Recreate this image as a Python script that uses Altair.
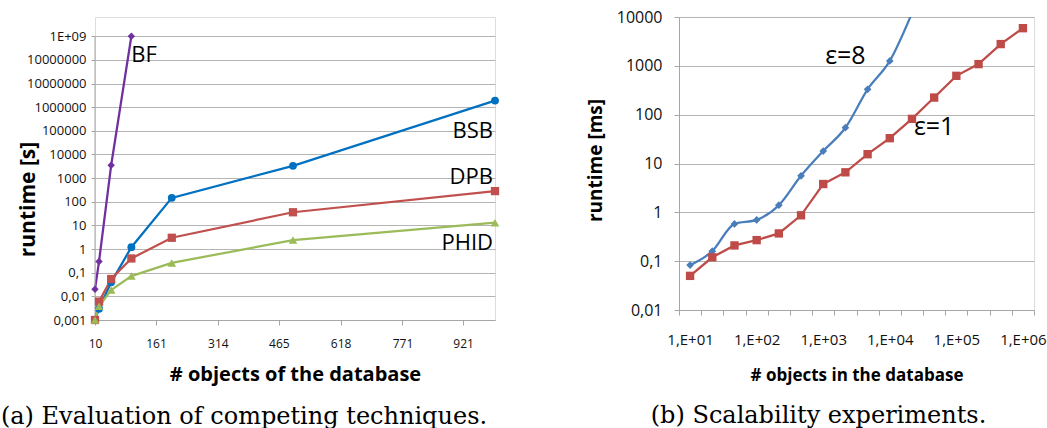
import json
import altair as alt
import pandas as pd

# ---------------- (a) Evaluation of competing techniques ----------------
left_series = ["BF", "BSB", "DPB", "PHID"]
left_colors = ["#7030A0", "#0070C0", "#C0504D", "#9BBB59"]
left_shapes = ["diamond", "circle", "square", "triangle-up"]
left_sizes = [55, 75, 60, 60]

bf_objects = [10, 20, 50, 100]
bf_runtime = [0.02, 0.3, 3500, 1e9]
objects = [10, 20, 50, 100, 200, 500, 1000]
bsb_runtime = [0.001, 0.003, 0.039, 1.2, 146, 3300, 1.9e6]
dpb_runtime = [0.001, 0.006, 0.054, 0.4, 3.0, 36, 282]
phid_runtime = [0.001, 0.0038, 0.0186, 0.072, 0.26, 2.4, 13]

left_xticks = [10, 161, 314, 465, 618, 771, 921]
left_yticks = [1e-3, 1e-2, 1e-1, 1, 10, 100, 1e3, 1e4, 1e5, 1e6, 1e7, 1e8, 1e9]
left_ytick_labels = ["0,001", "0,01", "0,1", "1", "10", "100", "1000", "10000",
                     "100000", "1000000", "10000000", "10000000", "1E+09"]

left_label_text = ["BF", "BSB", "DPB", "PHID"]
left_label_x = [100, 1000, 1000, 1000]
left_label_y = [1.6e8, 1.0e5, 1150, 1.8]

# ---------------- (b) Scalability experiments ----------------
right_series = ["ε=8", "ε=1"]
right_colors = ["#4A7EBB", "#BE4B48"]
right_shapes = ["diamond", "square"]
right_categories = ["1,E+01", "2,E+01", "5,E+01", "1,E+02", "2,E+02", "5,E+02",
                    "1,E+03", "2,E+03", "5,E+03", "1,E+04", "2,E+04", "5,E+04",
                    "1,E+05", "2,E+05", "5,E+05", "1,E+06"]
eps8_runtime = [0.083, 0.16, 0.58, 0.70, 1.4, 5.6, 18, 54, 330, 1260, 12000]
eps1_runtime = [0.05, 0.12, 0.21, 0.27, 0.37, 0.87, 3.8, 6.6, 15.5, 33, 82,
                224, 624, 1085, 2790, 5900]
right_yticks = [0.01, 0.1, 1, 10, 100, 1000, 10000]
right_ytick_labels = ["0,01", "0,1", "1", "10", "100", "1000", "10000"]

right_label_text = ["ε=8", "ε=1"]
right_label_cat = ["2,E+03", "5,E+04"]
right_label_y = [1600, 56]

GRAY = "#A6A6A6"
GRID = "#B4B4B4"
FONT = "Open Sans"
SERIF = "DejaVu Serif"

# ---------------- tables ----------------
rows = []
for s, xs, ys in [("BF", bf_objects, bf_runtime), ("BSB", objects, bsb_runtime),
                  ("DPB", objects, dpb_runtime), ("PHID", objects, phid_runtime)]:
    for x, y in zip(xs, ys):
        rows.append({"technique": s, "objects": x, "runtime": y})
df_left = pd.DataFrame(rows)
df_left_lab = pd.DataFrame({"text": left_label_text, "objects": left_label_x,
                            "runtime": left_label_y})
# vertical axis line spans the labelled decades only
df_left_axis = pd.DataFrame({"objects": [left_xticks[0]], "runtime": [left_yticks[0]],
                             "top": [left_yticks[-1]]})

rows = []
for s, ys in [("ε=8", eps8_runtime), ("ε=1", eps1_runtime)]:
    for c, y in zip(right_categories, ys):
        rows.append({"setting": s, "cat": c, "runtime": y})
df_right = pd.DataFrame(rows)
df_right_lab = pd.DataFrame({"text": right_label_text, "cat": right_label_cat,
                             "runtime": right_label_y})

# ---------------- left chart ----------------
left_label_expr = json.dumps(left_ytick_labels) + "[round(log(datum.value)/LN10)+3]"
xl = alt.X("objects:Q",
           scale=alt.Scale(domain=[10, 1000], nice=False, zero=False),
           axis=alt.Axis(values=left_xticks, format="d", grid=False, tickSize=5,
                         labelPadding=13, labelFontSize=12, labelFlush=False,
                         labelOverlap=False, labelColor="#111111",
                         domainColor=GRAY, tickColor=GRAY,
                         title="# objects of the database", titleFontSize=20,
                         titleFontWeight="bold", titlePadding=15, titleColor="#000000"))
yl = alt.Y("runtime:Q",
           scale=alt.Scale(type="log", domain=[1e-3, 6.5e9], nice=False),
           axis=alt.Axis(values=left_yticks, labelExpr=left_label_expr, grid=True,
                         gridColor=GRID, tickSize=4, labelPadding=5, labelFontSize=13,
                         labelColor="#111111", domain=False, tickColor=GRAY,
                         labelOverlap=False, labelFlush=False,
                         title="runtime [s]", titleFontSize=21, titleFontWeight="bold",
                         titleX=-67, titleY=182, titleBaseline="middle",
                         titleColor="#000000"))
lcolor = alt.Color("technique:N", scale=alt.Scale(domain=left_series, range=left_colors),
                   legend=None)
left_lines = alt.Chart(df_left).mark_line(strokeWidth=2.25).encode(x=xl, y=yl, color=lcolor)
left_axis_line = alt.Chart(df_left_axis).mark_rule(color=GRAY, strokeWidth=1).encode(
    x="objects:Q", y="runtime:Q", y2="top:Q")
left_points = alt.Chart(df_left).mark_point(filled=True, opacity=1).encode(
    x="objects:Q", y="runtime:Q", color=lcolor,
    shape=alt.Shape("technique:N", scale=alt.Scale(domain=left_series, range=left_shapes),
                    legend=None),
    size=alt.Size("technique:N", scale=alt.Scale(domain=left_series, range=left_sizes),
                  legend=None))
left_lab_l = alt.Chart(df_left_lab[df_left_lab.text == "BF"]).mark_text(
    align="left", baseline="middle", fontSize=22, font=FONT, color="#000000").encode(
    x="objects:Q", y="runtime:Q", text="text:N")
left_lab_r = alt.Chart(df_left_lab[df_left_lab.text != "BF"]).mark_text(
    align="right", baseline="middle", fontSize=22, font=FONT, color="#000000", dx=-2).encode(
    x="objects:Q", y="runtime:Q", text="text:N")

left = alt.layer(left_lines, left_axis_line, left_points, left_lab_l, left_lab_r).properties(
    width=400, height=303,
    title=alt.TitleParams("(a) Evaluation of competing techniques.", orient="bottom",
                          font=SERIF, fontSize=24, fontWeight="normal", color="#000000",
                          anchor="middle", offset=21, dx=-51))

# ---------------- right chart ----------------
right_label_expr = json.dumps(right_ytick_labels) + "[round(log(datum.value)/LN10)+2]"
xr = alt.X("cat:N", sort=right_categories, bandPosition=0.5,
           scale=alt.Scale(type="band", domain=right_categories, paddingInner=0,
                           paddingOuter=0),
           axis=alt.Axis(tickBand="extent",
                         labelExpr="indexof(datum.label, '1,') == 0 ? datum.label : ''",
                         labelAngle=0, grid=False, tickSize=5, labelPadding=17,
                         labelFontSize=15, labelOverlap=False, labelColor="#111111",
                         domainColor=GRAY, tickColor=GRAY,
                         title="# objects in the database", titleFontSize=17,
                         titleFontWeight="bold", titlePadding=20, titleColor="#000000"))
yr = alt.Y("runtime:Q",
           scale=alt.Scale(type="log", domain=[0.01, 10000], nice=False),
           axis=alt.Axis(values=right_yticks, labelExpr=right_label_expr, grid=True,
                         gridColor=GRID, tickSize=5, labelPadding=12, labelFontSize=16,
                         labelColor="#111111", domainColor=GRAY, tickColor=GRAY,
                         labelOverlap=False, labelFlush=False,
                         title="runtime [ms]", titleFontSize=19, titleFontWeight="bold",
                         titleX=-84, titleY=143, titleBaseline="middle",
                         titleColor="#000000"))
rcolor = alt.Color("setting:N", scale=alt.Scale(domain=right_series, range=right_colors),
                   legend=None)
rshape = alt.Shape("setting:N", scale=alt.Scale(domain=right_series, range=right_shapes),
                   legend=None)
rsize = alt.Size("setting:N", scale=alt.Scale(domain=right_series, range=[60, 70]),
                 legend=None)
xr_plain = alt.X("cat:N", sort=right_categories, bandPosition=0.5)
df_e8 = df_right[df_right.setting == "ε=8"]
df_e1 = df_right[df_right.setting == "ε=1"]
r_line8 = alt.Chart(df_e8).mark_line(strokeWidth=2.25, interpolate="monotone", clip=True).encode(
    x=xr, y=yr, color=rcolor)
r_line1 = alt.Chart(df_e1).mark_line(strokeWidth=2.25, clip=True).encode(
    x=xr_plain, y="runtime:Q", color=rcolor)
r_points = alt.Chart(df_right).mark_point(filled=True, opacity=1, clip=True).encode(
    x=xr_plain, y="runtime:Q", color=rcolor, shape=rshape, size=rsize)
r_lab = alt.Chart(df_right_lab).mark_text(
    align="center", baseline="middle", fontSize=25, font=FONT, color="#000000").encode(
    x=xr_plain, y="runtime:Q", text="text:N")

right = alt.layer(r_line8, r_line1, r_points, r_lab).properties(
    width=355, height=293,
    title=alt.TitleParams("(b) Scalability experiments.", orient="bottom",
                          font=SERIF, fontSize=24, fontWeight="normal", color="#000000",
                          anchor="middle", offset=21, dx=-38))

chart = alt.hconcat(left, right, spacing=184).resolve_scale(
    color="independent", shape="independent", size="independent"
).properties(
    bounds="flush",
    padding={"left": 0, "top": 8, "right": 0, "bottom": 0}
).configure_view(stroke=None).configure(font=FONT)

chart.save("out.html", embed_options={"renderer": "svg", "actions": False})
